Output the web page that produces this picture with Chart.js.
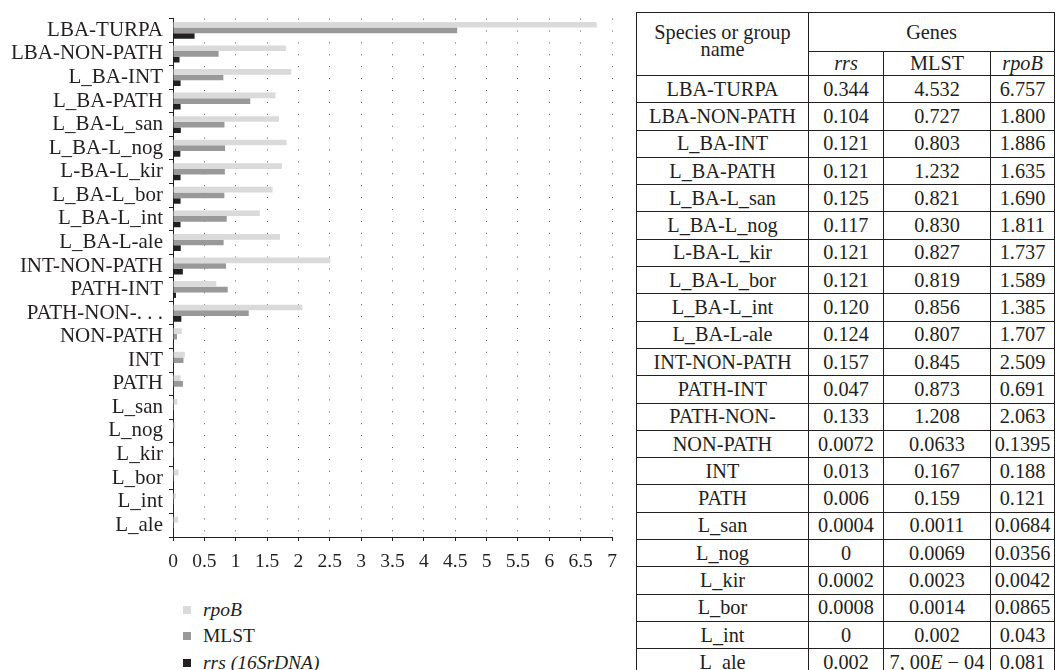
<!DOCTYPE html>
<html>
<head>
<meta charset="utf-8">
<script src="https://cdn.jsdelivr.net/npm/chart.js@4.4.1/dist/chart.umd.min.js"></script>
<style>
  html,body{margin:0;padding:0;background:#fff;}
  body{width:1055px;height:670px;overflow:hidden;position:relative;font-family:'Liberation Serif','Times New Roman',serif;color:#231f20;}
  #chartWrap{position:absolute;left:0;top:0;width:630px;height:580px;}
  .li{position:absolute;left:183px;height:24px;font-size:19.5px;line-height:24px;white-space:nowrap;}
  .li .sw{position:absolute;left:0;top:8px;width:8px;height:8px;}
  .li .tx{position:absolute;left:20px;top:0;}
  table{position:absolute;left:636px;top:12px;border-collapse:collapse;table-layout:fixed;font-size:20.3px;width:418px;}
  td{border:1px solid #231f20;padding:0;text-align:center;white-space:nowrap;overflow:visible;vertical-align:middle;}
  tr.h1{height:39px;}
  tr.h2{height:24px;}
  tr.d{height:27.3px;}
  td.sp{vertical-align:top;line-height:17px;padding-top:11px;}
</style>
</head>
<body>
<div id="chartWrap"><canvas id="c" width="630" height="580"></canvas></div>
<div id="legend"></div>
<table id="tbl">
  <colgroup><col style="width:172px"><col style="width:75px"><col style="width:107px"><col style="width:64px"></colgroup>
  <tbody id="tb"></tbody>
</table>
<script>
// ---- data ----
const categories = ['LBA-TURPA','LBA-NON-PATH','L_BA-INT','L_BA-PATH','L_BA-L_san','L_BA-L_nog','L-BA-L_kir','L_BA-L_bor','L_BA-L_int','L_BA-L-ale','INT-NON-PATH','PATH-INT','PATH-NON-','NON-PATH','INT','PATH','L_san','L_nog','L_kir','L_bor','L_int','L_ale'];
const rrsValues  = [0.344,0.104,0.121,0.121,0.125,0.117,0.121,0.121,0.120,0.124,0.157,0.047,0.133,0.0072,0.013,0.006,0.0004,0,0.0002,0.0008,0,0.002];
const mlstValues = [4.532,0.727,0.803,1.232,0.821,0.830,0.827,0.819,0.856,0.807,0.845,0.873,1.208,0.0633,0.167,0.159,0.0011,0.0069,0.0023,0.0014,0.002,0.0007];
const rpoBValues = [6.757,1.800,1.886,1.635,1.690,1.811,1.737,1.589,1.385,1.707,2.509,0.691,2.063,0.1395,0.188,0.121,0.0684,0.0356,0.0042,0.0865,0.043,0.081];
const rrsText  = ['0.344','0.104','0.121','0.121','0.125','0.117','0.121','0.121','0.120','0.124','0.157','0.047','0.133','0.0072','0.013','0.006','0.0004','0','0.0002','0.0008','0','0.002'];
const mlstText = ['4.532','0.727','0.803','1.232','0.821','0.830','0.827','0.819','0.856','0.807','0.845','0.873','1.208','0.0633','0.167','0.159','0.0011','0.0069','0.0023','0.0014','0.002','7, 00E − 04'];
const rpoBText = ['6.757','1.800','1.886','1.635','1.690','1.811','1.737','1.589','1.385','1.707','2.509','0.691','2.063','0.1395','0.188','0.121','0.0684','0.0356','0.0042','0.0865','0.043','0.081'];
const seriesNames = ['rpoB','MLST','rrs (16SrDNA)'];
const seriesItalic = [true,false,true];
const seriesColors = ['#dadada','#999999','#231f20'];
const xTickMax = 7, xTickStep = 0.5;

// ---- chart ----
const ink = '#231f20';
new Chart(document.getElementById('c'), {
  type:'bar',
  data:{
    labels:categories,
    datasets:[
      {label:seriesNames[0],data:rpoBValues,backgroundColor:seriesColors[0]},
      {label:seriesNames[1],data:mlstValues,backgroundColor:seriesColors[1]},
      {label:seriesNames[2],data:rrsValues,backgroundColor:seriesColors[2]}
    ]
  },
  options:{
    indexAxis:'y',
    responsive:false,
    animation:false,
    devicePixelRatio:1,
    categoryPercentage:0.72,
    barPercentage:1.0,
    layout:{padding:{left:0,right:18,top:13,bottom:0}},
    plugins:{legend:{display:false},tooltip:{enabled:false}},
    scales:{
      x:{
        min:0,max:xTickMax,
        ticks:{stepSize:xTickStep,color:ink,font:{family:"'Liberation Serif'",size:19.5},padding:9,maxRotation:0,autoSkip:false,
          callback:(v)=>String(Number(v))},
        grid:{color:'#555555',lineWidth:1,tickColor:ink,tickLength:4,tickBorderDash:[],drawTicks:true},
        border:{display:true,color:ink,width:1,dash:[1,10.9]},
        afterFit:(s)=>{s.height=43;}
      },
      y:{
        ticks:{color:ink,font:{family:"'Liberation Serif'",size:21},padding:6,autoSkip:false,
          callback:function(v,i){const l=this.getLabelForValue(v);return l.endsWith('-')?l+'. . .':l;}},
        grid:{drawOnChartArea:false,drawTicks:true,tickLength:4,tickColor:ink,offset:true},
        border:{display:true,color:ink,width:1},
        afterFit:(s)=>{s.width=173;}
      }
    }
  }
});

// ---- legend ----
const lg = document.getElementById('legend');
const legendY = [598,624,651];
seriesNames.forEach((n,i)=>{
  const d=document.createElement('div');d.className='li';d.style.top=legendY[i]+'px';
  const sw=document.createElement('span');sw.className='sw';sw.style.background=seriesColors[i];
  const tx=document.createElement('span');tx.className='tx';tx.textContent=n;if(seriesItalic[i])tx.style.fontStyle='italic';
  d.appendChild(sw);d.appendChild(tx);lg.appendChild(d);
});

// ---- table ----
const tb=document.getElementById('tb');
function esc(s){return s.replace(/&/g,'&amp;').replace(/</g,'&lt;');}
let html='<tr class="h1"><td rowspan="2" class="sp">Species or group<br>name</td><td colspan="3">Genes</td></tr>';
html+='<tr class="h2"><td><i>rrs</i></td><td>MLST</td><td><i>rpoB</i></td></tr>';
categories.forEach((c,i)=>{
  const m=esc(mlstText[i]).replace('E','<i>E</i>');
  html+='<tr class="d"><td>'+esc(c)+'</td><td>'+esc(rrsText[i])+'</td><td>'+m+'</td><td>'+esc(rpoBText[i])+'</td></tr>';
});
tb.innerHTML=html;
</script>
</body>
</html>
